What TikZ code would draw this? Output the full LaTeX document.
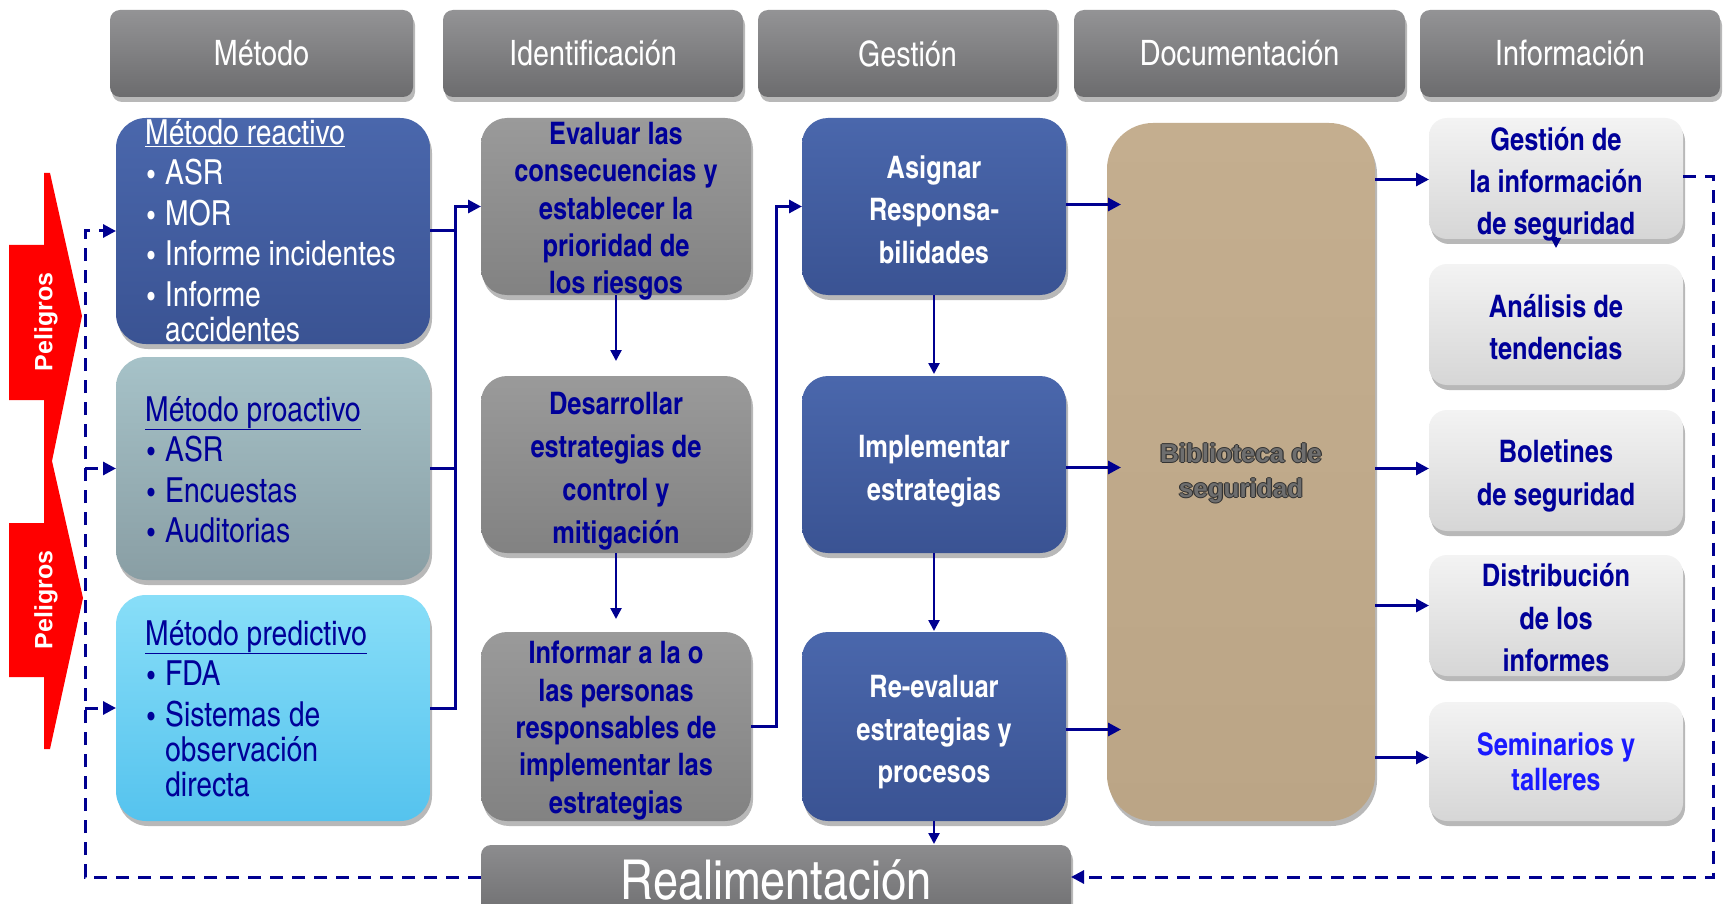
\documentclass[tikz,border=0pt]{standalone}
\usepackage{fontspec}
\setmainfont{texgyreheroscn}[Extension=.otf,UprightFont=*-regular,BoldFont=*-bold,ItalicFont=*-italic,BoldItalicFont=*-bolditalic]
\newfontfamily\arialfont{Liberation Sans}
\usetikzlibrary{arrows.meta,shadows,calc}
\definecolor{navy}{HTML}{000090}
\definecolor{dtext}{HTML}{000099}
\definecolor{btext}{HTML}{1A1AFF}
\definecolor{hdrT}{HTML}{939395}
\definecolor{hdrB}{HTML}{6C6C6E}
\definecolor{reacT}{HTML}{4A67AC}
\definecolor{reacB}{HTML}{3A5393}
\definecolor{grayT}{HTML}{9A9A9A}
\definecolor{grayB}{HTML}{828282}
\definecolor{proaT}{HTML}{A6C2C8}
\definecolor{proaB}{HTML}{899EA4}
\definecolor{predT}{HTML}{88DEF8}
\definecolor{predB}{HTML}{55C3EE}
\definecolor{bibT}{HTML}{C4AE8F}
\definecolor{bibB}{HTML}{BBA586}
\definecolor{rgtT}{HTML}{F3F3F3}
\definecolor{rgtB}{HTML}{D6D6D6}
\definecolor{realT}{HTML}{8C8C8E}
\definecolor{realB}{HTML}{6C6C6E}
\definecolor{peli}{HTML}{FF0000}
\definecolor{bibtxt}{HTML}{6E6E6E}
\definecolor{bibout}{HTML}{333333}
\newcommand\itm{\hspace*{2pt}\makebox[18pt][l]{\scalebox{0.8}{•}}}
\begin{document}
\begin{tikzpicture}[x=1pt,y=-1pt,
  basebox/.style={inner sep=0pt,outer sep=0pt,
    drop shadow={shadow xshift=2pt,shadow yshift=-5pt,opacity=0.28,fill=black}},
  hdrbox/.style={basebox,rounded corners=10pt,top color=hdrT,bottom color=hdrB,
    minimum height=87pt,text=white,font=\fontsize{35}{40}\selectfont},
  leftbox/.style={basebox,rounded corners=30pt,minimum width=314pt},
  graybox/.style={basebox,rounded corners=26pt,top color=grayT,bottom color=grayB,minimum width=270pt},
  bluebox/.style={basebox,rounded corners=26pt,top color=reacT,bottom color=reacB,minimum width=264pt},
  rgtbox/.style={basebox,rounded corners=18pt,top color=rgtT,bottom color=rgtB,minimum width=254pt},
  lefttext/.style={anchor=base west,align=left,inner sep=0pt,font=\fontsize{34.5}{40.5}\selectfont},
  ctext/.style={align=center,inner sep=0pt,font=\bfseries\fontsize{31}{37.4}\selectfont},
  bibfont/.style={align=center,inner sep=0pt,font=\arialfont\bfseries\fontsize{26}{35}\selectfont},
  line/.style={draw=navy,line width=3pt},
  conn/.style={line,-{Triangle[length=13pt,width=13pt]}},
  vconn/.style={draw=navy,line width=2.5pt,-{Triangle[length=11pt,width=11pt]}},
  dconn/.style={draw=navy,line width=3pt,dash pattern=on 13pt off 9pt,-{Triangle[length=13pt,width=13pt]}}
]
\useasboundingbox (0,0) rectangle (1727,904);
\clip (0,0) rectangle (1727,904);
\fill[white] (0,0) rectangle (1727,904);

% headers
\node[hdrbox,minimum width=303pt] (hMet) at (261.5,53.5) {Método};
\node[hdrbox,minimum width=300pt] (hIde) at (593,53.5) {Identificación};
\node[hdrbox,minimum width=299pt] (hGes) at (907.5,53.5) {Gestión};
\node[hdrbox,minimum width=331pt] (hDoc) at (1239.5,53.5) {Documentación};
\node[hdrbox,minimum width=300pt] (hInf) at (1570,53.5) {Información};

% Peligros
\fill[peli] (44,173) -- (50,173) -- (82,316) -- (52,461) -- (83,598) -- (50,749) -- (44,749)
  -- (44,677) -- (9,677) -- (9,523) -- (44,523) -- (44,400) -- (9,400) -- (9,245) -- (44,245) -- cycle;
\node[rotate=90,text=white,font=\arialfont\bfseries\fontsize{25}{30}\selectfont] (pel1) at (46,322) {Peligros};
\node[rotate=90,text=white,font=\arialfont\bfseries\fontsize{25}{30}\selectfont] (pel2) at (46,600) {Peligros};

% left boxes
\node[leftbox,top color=reacT,bottom color=reacB,minimum height=226pt] (reac) at (273,231) {};
\node[leftbox,top color=proaT,bottom color=proaB,minimum height=223pt] (proa) at (273,468.5) {};
\node[leftbox,top color=predT,bottom color=predB,minimum height=226pt] (pred) at (273,708) {};

\node[lefttext,text=white] (reacT) at (145,341) {\underline{Método reactivo}\\
  \itm ASR\\
  \itm MOR\\
  \itm Informe incidentes\\
  \itm Informe\\[-5.5pt]
  \hspace*{20pt}accidentes};
\node[lefttext,text=dtext] (proaT) at (145,542.5) {\underline{Método proactivo}\\
  \itm ASR\\
  \itm Encuestas\\
  \itm Auditorias};
\node[lefttext,text=dtext] (predT) at (145,796) {\underline{Método predictivo}\\
  \itm FDA\\
  \itm Sistemas de\\[-5.5pt]
  \hspace*{20pt}observación\\[-5.5pt]
  \hspace*{20pt}directa};

% gray column
\node[graybox,minimum height=177pt] (eval) at (616,206.5) {};
\node[graybox,minimum height=177pt] (desa) at (616,464.5) {};
\node[graybox,minimum height=189pt] (info) at (616,726.5) {};
\node[ctext,text=dtext] (evalT) at (616,211.3) {Evaluar las\\consecuencias y\\establecer la\\prioridad de\\los riesgos};
\node[ctext,text=dtext,font=\bfseries\fontsize{31}{43}\selectfont] (desaT) at (616,471.3) {Desarrollar\\estrategias de\\control y\\mitigación};
\node[ctext,text=dtext] (infoT) at (616,730.5) {Informar a la o\\las personas\\responsables de\\implementar las\\estrategias};

% blue column
\node[bluebox,minimum height=177pt] (asig) at (934,206.5) {};
\node[bluebox,minimum height=177pt] (impl) at (934,464.5) {};
\node[bluebox,minimum height=189pt] (reev) at (934,726.5) {};
\node[ctext,text=white,font=\bfseries\fontsize{31}{42.4}\selectfont] (asigT) at (934,209.5) {Asignar\\Responsa-\\bilidades};
\node[ctext,text=white,font=\bfseries\fontsize{31}{43}\selectfont] (implT) at (934,470.8) {Implementar\\estrategias};
\node[ctext,text=white,font=\bfseries\fontsize{31}{42.4}\selectfont] (reevT) at (934,732.3) {Re-evaluar\\estrategias y\\procesos};

% biblioteca
\node[basebox,rounded corners=46pt,top color=bibT,bottom color=bibB,minimum width=268pt,minimum height=698pt] (bib) at (1241,472) {};
\node[bibfont,text=bibout] (bibO1) at (1242.2,473.5) {Biblioteca de\\seguridad};
\node[bibfont,text=bibout] (bibO2) at (1239.8,473.5) {Biblioteca de\\seguridad};
\node[bibfont,text=bibout] (bibO3) at (1241,474.7) {Biblioteca de\\seguridad};
\node[bibfont,text=bibout] (bibO4) at (1241,472.3) {Biblioteca de\\seguridad};
\node[bibfont,text=bibtxt] (bibT) at (1241,473.5) {Biblioteca de\\seguridad};

% right column
\node[rgtbox,minimum height=121pt] (gest) at (1556,178.5) {};
\node[rgtbox,minimum height=121pt] (anal) at (1556,324.5) {};
\node[rgtbox,minimum height=121pt] (bole) at (1556,470.5) {};
\node[rgtbox,minimum height=121pt] (dist) at (1556,615.5) {};
\node[rgtbox,minimum height=119pt] (semi) at (1556,761.5) {};
\node[ctext,text=dtext,font=\bfseries\fontsize{31}{42.4}\selectfont] (gestT) at (1556,184.3) {Gestión de\\la información\\de seguridad};
\node[ctext,text=dtext,font=\bfseries\fontsize{31}{42.4}\selectfont] (analT) at (1556,327) {Análisis de\\tendencias};
\node[ctext,text=dtext,font=\bfseries\fontsize{31}{42.4}\selectfont] (boleT) at (1556,475.8) {Boletines\\de seguridad};
\node[ctext,text=dtext,font=\bfseries\fontsize{31}{42.4}\selectfont] (distT) at (1556,618) {Distribución\\de los\\informes};
\node[ctext,text=btext,font=\bfseries\fontsize{31}{35}\selectfont] (semiT) at (1556,762) {Seminarios y\\talleres};

% realimentacion
\node[basebox,rounded corners=10pt,top color=realT,bottom color=realB,minimum width=590pt,minimum height=80pt] (real) at (776,885) {};
\node[inner sep=0pt,text=white,font=\fontsize{55}{60}\selectfont] (realT) at (776,880) {Realimentación};

% solid connectors
\coordinate (busTop) at (455,206.5);
\draw[line] (reac.east) -- (reac.east -| busTop);
\draw[line] (proa.east) -- (proa.east -| busTop);
\draw[conn] (pred.east) -| (busTop) -- (eval.west);
\coordinate (bus2) at (776,206.5);
\draw[conn] (info.east) -| (bus2) -- (asig.west);
\draw[vconn,shorten >=15pt] (eval.south) -- (desa.north);
\draw[vconn,shorten >=13pt] (desa.south) -- (info.north);
\draw[vconn,shorten >=2pt] (asig.south) -- (impl.north);
\draw[vconn,shorten >=1pt] (impl.south) -- (reev.north);
\draw[vconn,shorten >=1pt] (reev.south) -- (real.north -| reev.south);
\draw[conn,shorten >=-14pt] ([yshift=2pt]asig.east) -- ([yshift=2pt]asig.east -| bib.west);
\draw[conn,shorten >=-14pt] ([yshift=-3pt]impl.east) -- ([yshift=-3pt]impl.east -| bib.west);
\draw[conn,shorten >=-14pt] ([yshift=-3pt]reev.east) -- ([yshift=-3pt]reev.east -| bib.west);
\coordinate (gA) at ([yshift=-1pt]gest.west);
\coordinate (bA) at ([yshift=2pt]bole.west);
\coordinate (dA) at ([yshift=10pt]dist.west);
\coordinate (sA) at ([yshift=4pt]semi.west);
\draw[conn] (gA -| bib.east) -- (gA);
\draw[conn] (bA -| bib.east) -- (bA);
\draw[conn] (dA -| bib.east) -- (dA);
\draw[conn] (sA -| bib.east) -- (sA);
\draw[draw=navy,line width=2pt,-{Triangle[length=10pt,width=10pt]}] ([yshift=2pt]gest.south) -- ([yshift=-9pt]gest.south);

% dashed feedback
\coordinate (fbR) at (1713,877);
\coordinate (fbL) at (85,877);
\draw[dconn] ([yshift=2pt]gest.east) -| (fbR) -- (fbR -| real.east);
\draw[dconn] (fbL -| real.west) -- (fbL) |- (reac.west);
\draw[dconn] (proa.west -| fbL) -- (proa.west);
\draw[dconn] (pred.west -| fbL) -- (pred.west);
\end{tikzpicture}
\end{document}
